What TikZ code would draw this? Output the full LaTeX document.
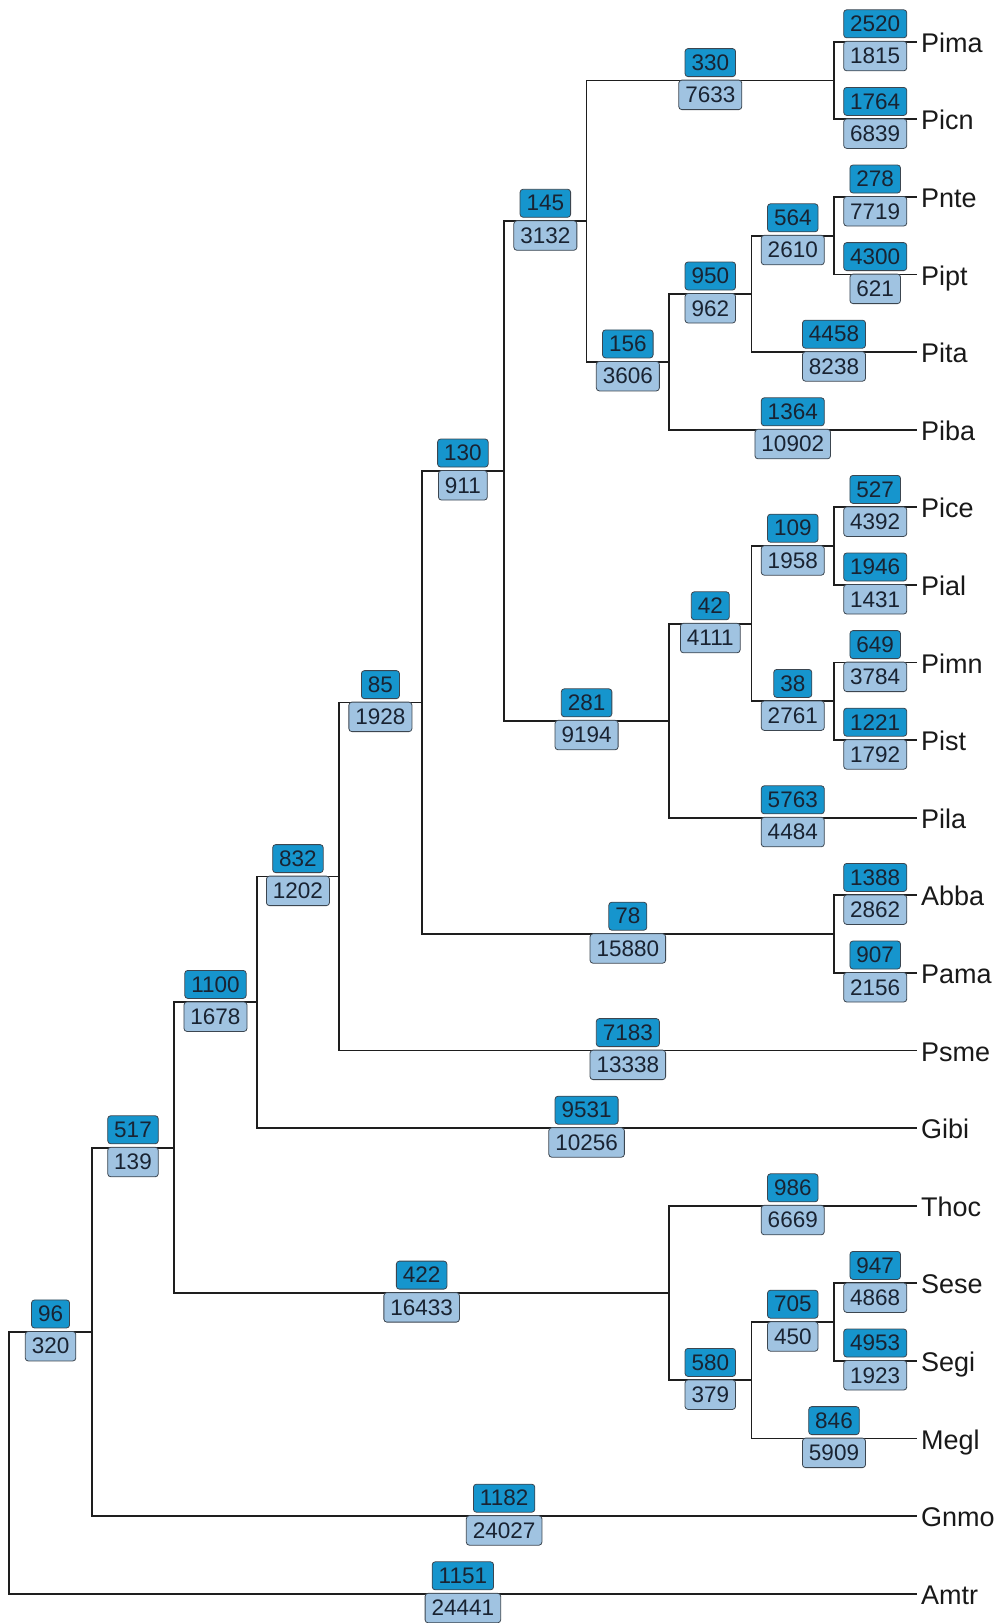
\documentclass[tikz,border=0pt]{standalone}
\usepackage{fontspec}
\setmainfont{Liberation Sans}
\definecolor{darkbox}{RGB}{22,149,205}
\definecolor{lightbox}{RGB}{160,195,225}
\definecolor{boxline}{RGB}{60,70,80}
\definecolor{numtext}{RGB}{25,35,50}
\definecolor{treeline}{RGB}{30,30,30}
\tikzset{
  branch/.style={line width=1.7pt, draw=treeline, line cap=rect},
  numbox/.style={draw=boxline, line width=0.8pt, rounded corners=3pt,
    font=\fontsize{22.5}{22.5}\selectfont, text=numtext,
    minimum height=28pt, inner xsep=6.5pt, inner ysep=0pt},
  upperlbl/.style={numbox, fill=darkbox, anchor=south, yshift=3.5pt},
  lowerlbl/.style={numbox, fill=lightbox, anchor=north, yshift=0.8pt, minimum height=29.5pt},
  tiplbl/.style={font=\fontsize{27}{27}\selectfont, text=black!90,
    anchor=base west, inner sep=0pt, xshift=4.5pt, yshift=-10.5pt}
}
\newcommand\brlab[4]{\draw[branch] (#1) |- (#2)
  node[upperlbl,pos=0.75] (u-#2) {#3}
  node[lowerlbl,pos=0.75] (l-#2) {#4};}
\begin{document}
\begin{tikzpicture}
\useasboundingbox (0pt,0pt) rectangle (998pt,-1623pt);
\begin{scope}[shift={(9.3pt,-41.7pt)}, x=82.47pt, y=-77.6pt]
% internal nodes
\coordinate (R)    at (0,18.31298828125);
\coordinate (N1)   at (1,16.6259765625);
\coordinate (N2)   at (2,14.251953125);
\coordinate (N3)   at (3,12.37890625);
\coordinate (N4)   at (4,10.7578125);
\coordinate (N5)   at (5,8.515625);
\coordinate (N6)   at (6,5.53125);
\coordinate (N7)   at (7,2.3125);
\coordinate (nPP)  at (10,0.5);
\coordinate (n156) at (8,4.125);
\coordinate (n950) at (9,3.25);
\coordinate (n564) at (10,2.5);
\coordinate (n281) at (8,8.75);
\coordinate (n42)  at (9,7.5);
\coordinate (n109) at (10,6.5);
\coordinate (n38)  at (10,8.5);
\coordinate (nAP)  at (10,11.5);
\coordinate (nTh)  at (8,16.125);
\coordinate (n580) at (9,17.25);
\coordinate (n705) at (10,16.5);
% tips
\foreach \t [count=\i from 0] in {Pima,Picn,Pnte,Pipt,Pita,Piba,Pice,Pial,Pimn,Pist,Pila,Abba,Pama,Psme,Gibi,Thoc,Sese,Segi,Megl,Gnmo,Amtr}{
  \coordinate (t\t) at (11,\i);
  \node[tiplbl] (lab\t) at (t\t) {\t};
}
% branches
\brlab{R}{N1}{96}{320}
\brlab{R}{tAmtr}{1151}{24441}
\brlab{N1}{N2}{517}{139}
\brlab{N1}{tGnmo}{1182}{24027}
\brlab{N2}{N3}{1100}{1678}
\brlab{N2}{nTh}{422}{16433}
\brlab{N3}{N4}{832}{1202}
\brlab{N3}{tGibi}{9531}{10256}
\brlab{N4}{N5}{85}{1928}
\brlab{N4}{tPsme}{7183}{13338}
\brlab{N5}{N6}{130}{911}
\brlab{N5}{nAP}{78}{15880}
\brlab{N6}{N7}{145}{3132}
\brlab{N6}{n281}{281}{9194}
\brlab{N7}{nPP}{330}{7633}
\brlab{N7}{n156}{156}{3606}
\brlab{nPP}{tPima}{2520}{1815}
\brlab{nPP}{tPicn}{1764}{6839}
\brlab{n156}{n950}{950}{962}
\brlab{n156}{tPiba}{1364}{10902}
\brlab{n950}{n564}{564}{2610}
\brlab{n950}{tPita}{4458}{8238}
\brlab{n564}{tPnte}{278}{7719}
\brlab{n564}{tPipt}{4300}{621}
\brlab{n281}{n42}{42}{4111}
\brlab{n281}{tPila}{5763}{4484}
\brlab{n42}{n109}{109}{1958}
\brlab{n42}{n38}{38}{2761}
\brlab{n109}{tPice}{527}{4392}
\brlab{n109}{tPial}{1946}{1431}
\brlab{n38}{tPimn}{649}{3784}
\brlab{n38}{tPist}{1221}{1792}
\brlab{nAP}{tAbba}{1388}{2862}
\brlab{nAP}{tPama}{907}{2156}
\brlab{nTh}{tThoc}{986}{6669}
\brlab{nTh}{n580}{580}{379}
\brlab{n580}{n705}{705}{450}
\brlab{n580}{tMegl}{846}{5909}
\brlab{n705}{tSese}{947}{4868}
\brlab{n705}{tSegi}{4953}{1923}
\end{scope}
\end{tikzpicture}
\end{document}
